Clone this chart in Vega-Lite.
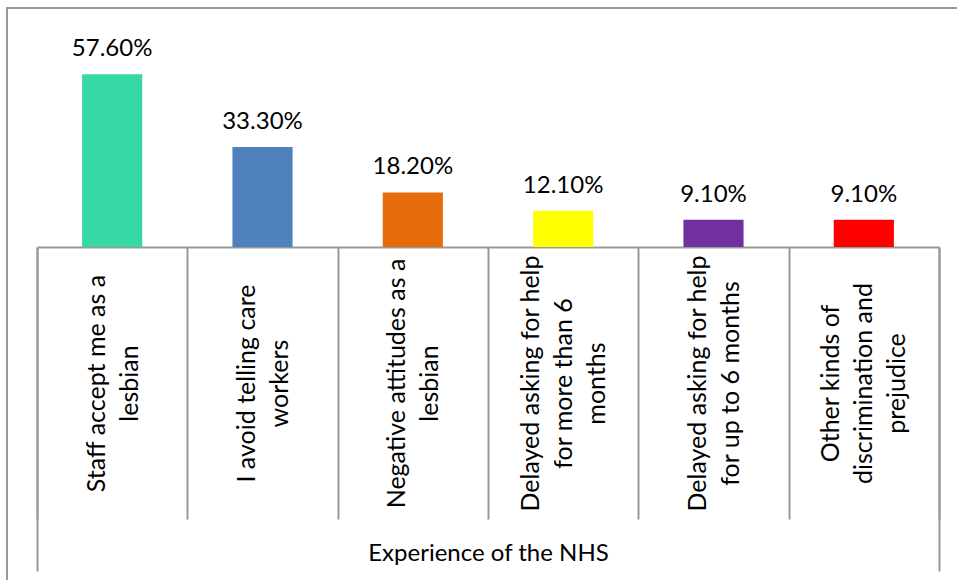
{
  "$schema": "https://vega.github.io/schema/vega-lite/v6.json",
  "width": 960,
  "height": 580,
  "autosize": {"type": "none"},
  "padding": {"left": 7, "top": 8, "right": 0, "bottom": 0},
  "background": "white",
  "config": {"view": {"stroke": "#999999", "strokeWidth": 2}, "font": "Lato"},
  "data": {
    "values": [
      {"experience": "Staff accept me as a\nlesbian", "share": 0.576, "group": "Experience of the NHS"},
      {"experience": "I avoid telling care\nworkers", "share": 0.333, "group": "Experience of the NHS"},
      {"experience": "Negative attitudes as a\nlesbian", "share": 0.182, "group": "Experience of the NHS"},
      {"experience": "Delayed asking for help\nfor more than 6\nmonths", "share": 0.121, "group": "Experience of the NHS"},
      {"experience": "Delayed asking for help\nfor up to 6 months", "share": 0.091, "group": "Experience of the NHS"},
      {"experience": "Other kinds of\ndiscrimination and\nprejudice", "share": 0.091, "group": "Experience of the NHS"}
    ]
  },
  "layer": [
    {
      "layer": [
        {
          "mark": {"type": "bar", "width": {"band": 0.4}},
          "encoding": {
            "x": {
              "field": "experience", "type": "nominal", "sort": null,
              "scale": {"range": [30, 932], "paddingInner": 0, "paddingOuter": 0},
              "axis": {
                "orient": "bottom", "offset": -341, "title": null,
                "domainColor": "#999999", "domainWidth": 2,
                "tickBand": "extent", "tickSize": 272, "tickColor": "#999999", "tickWidth": 2,
                "labelAngle": 270, "labelAlign": "center", "labelBaseline": "middle",
                "labelPadding": -136, "labelFont": "Lato", "labelFontSize": 25,
                "labelColor": "black", "labelLineHeight": 33, "labelLimit": 400,
                "labelOverlap": false,
                "labelOffset": {
                  "condition": [
                    {"test": "length(split(datum.value, '\\n')) == 3", "value": -33},
                    {"test": "length(split(datum.value, '\\n')) == 2", "value": -16}
                  ],
                  "value": 0
                },
                "labelExpr": "split(datum.label, '\\n')"
              }
            },
            "y": {
              "field": "share", "type": "quantitative",
              "scale": {"domain": [0, 0.7], "range": [239, 29]},
              "axis": null
            },
            "color": {
              "field": "experience", "type": "nominal", "sort": null,
              "scale": {"range": ["#36D8A6", "#4F81BD", "#E46C0A", "#FFFF00", "#7030A0", "#FF0000"]},
              "legend": null
            }
          }
        },
        {
          "mark": {"type": "text", "baseline": "alphabetic", "dy": -18, "font": "Lato", "fontSize": 24, "color": "black"},
          "encoding": {
            "x": {"field": "experience", "type": "nominal", "sort": null},
            "y": {"field": "share", "type": "quantitative"},
            "text": {"field": "share", "type": "quantitative", "format": ".2%"}
          }
        }
      ]
    },
    {
      "mark": {"type": "rule", "opacity": 0},
      "encoding": {
        "x": {
          "field": "group", "type": "nominal",
          "scale": {"range": [30, 932], "paddingInner": 0, "paddingOuter": 0},
          "axis": {
            "orient": "bottom", "offset": -341, "title": null, "domain": false,
            "tickBand": "extent", "tickSize": 324, "tickColor": "#999999", "tickWidth": 2,
            "labelAngle": 0, "labelAlign": "center", "labelBaseline": "middle",
            "labelPadding": -18, "labelFont": "Lato", "labelFontSize": 24, "labelColor": "black",
            "labelLimit": 1000
          }
        }
      }
    }
  ],
  "resolve": {"scale": {"x": "independent"}, "axis": {"x": "independent"}}
}
